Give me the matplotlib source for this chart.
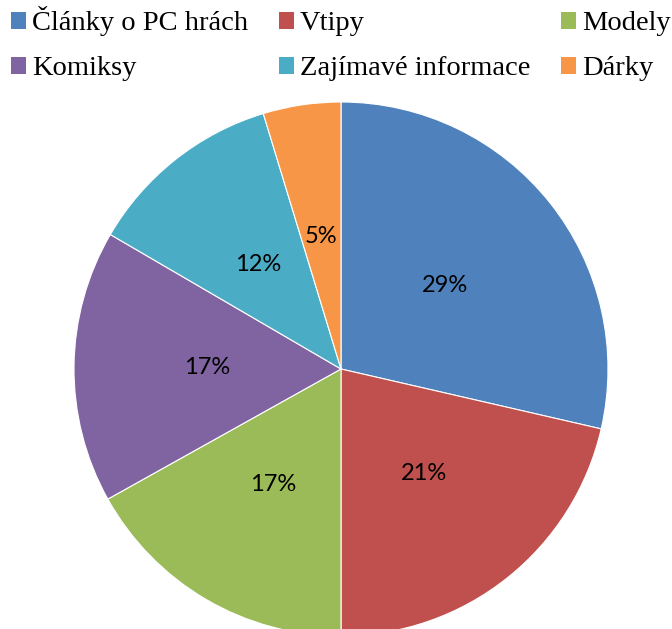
import numpy as np
import matplotlib.pyplot as plt
from matplotlib.patches import Patch

# data
kategorie = ['Články o PC hrách', 'Vtipy', 'Modely', 'Komiksy',
             'Zajímavé informace', 'Dárky']
hodnoty = [28.6, 21.4, 16.9, 16.5, 11.9, 4.7]
popisky = ['29%', '21%', '17%', '17%', '12%', '5%']
barvy = ['#4F81BD', '#C0504D', '#9BBB59', '#8064A2', '#4BACC6', '#F79646']

fig = plt.figure(figsize=(6.72, 6.29), dpi=100)
ax = fig.add_axes([74/672, -7/629, 534/672, 534/629])

wedges, texts = ax.pie(hodnoty, colors=barvy, startangle=90, counterclock=False,
                       radius=1, wedgeprops=dict(edgecolor='white', linewidth=0.8))
for w, txt in zip(wedges, popisky):
    ang = np.deg2rad((w.theta1 + w.theta2) / 2)
    ax.text(0.5*np.cos(ang), 0.5*np.sin(ang), txt, ha='center', va='center',
            fontsize=17, family=['Lato', 'DejaVu Sans'])
ax.set_xlim(-1, 1)
ax.set_ylim(-1, 1)
ax.axis('off')

# legend: row-wise order in the picture, matplotlib fills column-wise
poradi = [0, 3, 1, 4, 2, 5]
handles = [Patch(facecolor=barvy[i], edgecolor='none') for i in poradi]
labels = [kategorie[i] for i in poradi]
fig.legend(handles, labels, ncol=3, loc='upper left', mode='expand',
           bbox_to_anchor=(-0.001, 1.008, 1.016, 0.0), frameon=False,
           prop={'family': 'Liberation Serif', 'size': 20.5},
           handlelength=0.55, handleheight=0.55, handletextpad=0.2,
           labelspacing=0.7, borderaxespad=0.0, columnspacing=0.5)

fig.savefig('out.png', dpi=100)
